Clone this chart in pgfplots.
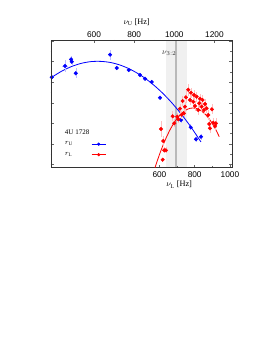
\documentclass[border=0pt]{standalone}
\usepackage{pgfplots}
\pgfplotsset{compat=1.18}
\usepackage{fontspec}
\setmainfont{Liberation Serif}
\newfontfamily\sansf{Liberation Sans}
\begin{document}
\begin{tikzpicture}
\path[use as bounding box] (0,0) rectangle (262pt,339pt);
% ---------- upper-frequency axis (blue) ----------
\begin{axis}[
  at={(50.7pt,171.3pt)}, anchor=south west,
  width=181pt, height=127.7pt, scale only axis,
  xmin=384, xmax=1286, ymin=0, ymax=127.7,
  xtick={600,800,1000,1200}, minor x tick num=1,
  xtick pos=upper, xticklabel pos=upper,
  ytick={3.1,23.7,44.3,64.9,85.5,106.1,126.7}, minor y tick num=1,
  yticklabels={},
  tick align=inside,
  major tick length=3pt, minor tick length=1.5pt,
  every tick/.style={black!60},
  axis line style={black!80},
  /pgf/number format/assume math mode=true,
  /pgf/number format/1000 sep={},
  xticklabel style={font=\sansf\fontsize{8.3}{9}\selectfont, yshift=-1pt},
  xlabel={$\nu_{\mathrm{U}}$ [Hz]},
  xlabel style={font=\fontsize{8.3}{9}\selectfont, at={(axis description cs:0.475,1)}, anchor=south, yshift=10.5pt},
  clip=true,
]
\fill[gray!12] (axis cs:958.6,0) rectangle (axis cs:1061.6,127.7);
\draw[gray!55, line width=1.2pt] (axis cs:1008.4,0) -- (axis cs:1008.4,127.7);
\node[font=\fontsize{8}{9}\selectfont, black!80] at (axis cs:975,114) {$\nu_{3:2}$};
\addplot[blue, line width=0.8pt, smooth, no marks] coordinates {
(389.3,90.4) (435.9,96.2) (485.7,101.0) (535.5,104.3) (585.1,106.1)
(634.9,106.3) (684.7,105.1) (734.5,102.3) (784.3,98.0) (834.1,92.2)
(883.9,84.9) (933.7,76.1) (983.5,65.8) (1033.3,53.9) (1083.1,40.6) (1132.9,25.7)};
\addplot[blue, only marks, mark=*, mark size=1.8pt,
  error bars/.cd, x dir=both, x explicit, y dir=both, y explicit,
  error bar style={blue!25, line width=0.5pt}, error mark=none]
  table[x=x, y=y, x error=ex, y error=ey] {
x y ex ey
389.3 90.4 0 2
455.6 101.7 15 6
485.5 108.4 6 3
489 106 6 3
508.9 94.4 8 5
679.7 113 8 5
713 99.7 4 2
772.8 97.7 4 2
829 92.7 4 2
854 89 4 2
887.3 85.7 4 2
928.7 70 4 2
1033 47.7 5 3
1081.6 40.4 5 3
1108 28.4 5 3
1132.9 31 5 3
};
\end{axis}
% ---------- lower-frequency axis (red) ----------
\begin{axis}[
  at={(50.7pt,171.3pt)}, anchor=south west,
  width=181pt, height=127.7pt, scale only axis,
  xmin=-17, xmax=1010, ymin=0, ymax=127.7,
  xtick={600,800,1000}, minor x tick num=1,
  xtick pos=lower, xticklabel pos=lower,
  ytick=\empty,
  tick align=inside,
  major tick length=3pt, minor tick length=1.5pt,
  every tick/.style={black!60},
  axis line style={black!80},
  /pgf/number format/assume math mode=true,
  /pgf/number format/1000 sep={},
  xticklabel style={font=\sansf\fontsize{8.3}{9}\selectfont},
  xlabel={$\nu_{\mathrm{L}}$ [Hz]},
  xlabel style={font=\fontsize{8.3}{9}\selectfont, at={(axis description cs:0.71,0)}, anchor=north, yshift=-10pt},
  clip=true,
  legend plot pos=right,
  legend cell align=left,
  legend style={at={(axis description cs:0.05,0.33)}, anchor=north west,
    draw=none, fill=none, font=\fontsize{7}{8}\selectfont, row sep=2pt},
  legend image code/.code={\draw[mark repeat=2, mark phase=2] plot coordinates {(0cm,0cm) (0.25cm,0cm) (0.5cm,0cm)};},
]
\addlegendimage{empty legend}
\addlegendentry{4U 1728}
\addlegendimage{blue, line width=0.6pt, mark=*, mark size=1.3pt}
\addlegendentry{$r_{\mathrm{U}}$}
\addlegendimage{red, line width=0.6pt, mark=*, mark size=1.3pt}
\addlegendentry{$r_{\mathrm{L}}$}
\addplot[red, line width=0.8pt, smooth, no marks, forget plot] coordinates {
(574.5,0) (602.8,14.46) (631.2,27.15) (659.6,37.73) (688,46.26) (716.3,52.7)
(744.7,57.06) (773.1,59.35) (801.4,59.55) (829.8,57.7) (858.2,53.76)
(886.5,47.73) (914.9,39.64) (939.3,31.0)};
\addplot[red, only marks, mark=*, mark size=1.8pt, forget plot,
  error bars/.cd, x dir=both, x explicit, y dir=both, y explicit,
  error bar style={red!25, line width=0.5pt}, error mark=none]
  table[x=x, y=y, x error=ex, y error=ey] {
x y ex ey
608.5 38.7 4 8
621.6 26.7 4 5
627.2 17.4 4 3
636.9 17.4 4 3
618.2 8.0 4 2
674.9 51.4 4 5
684 44.4 4 4
701 51 4 4
706.7 48.4 4 4
716.3 59 4 5
726 53 4 4
731.6 66.7 4 5
739 54.4 4 4
744.7 61 4 5
750.4 70.4 4 6
763.4 78 4 6
773.1 67.7 4 5
778.7 75 4 5
791.8 66 4 5
795.8 72.7 4 5
801.4 61.7 4 5
811.1 71 4 5
820.2 57.7 4 5
825.8 64.4 4 5
829.8 69 4 5
839.4 61 4 5
845.1 67.7 4 5
852.5 57.7 4 5
858.2 63.7 4 5
867.8 59.4 4 5
876.9 52.7 4 5
882.6 43.7 4 5
886.5 39.4 4 5
897.9 58.4 4 5
905.3 45 4 5
914.9 41.7 4 5
920.6 44.4 4 5
};
\end{axis}
\end{tikzpicture}
\end{document}
